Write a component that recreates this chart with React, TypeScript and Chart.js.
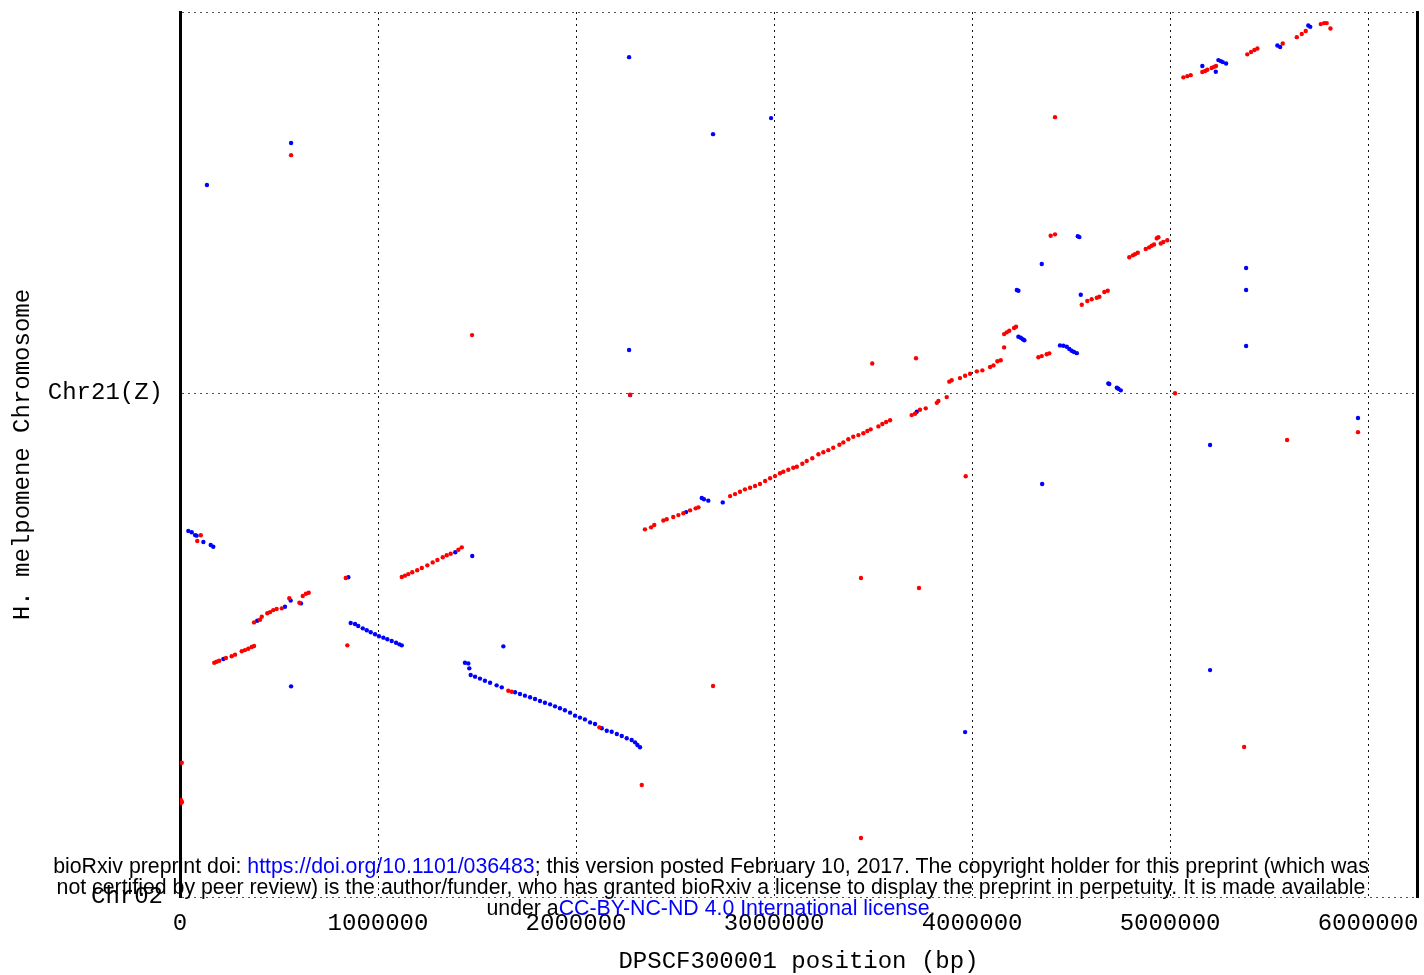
import React, { useEffect, useRef } from "react";
import { Chart, registerables } from "chart.js";

Chart.register(...registerables);

// X axis (DPSCF300001 position, bp)
const xTickValues = [0, 1000000, 2000000, 3000000, 4000000, 5000000, 6000000];
const xMaxBp = 6247000;

// Y axis: concatenated H. melpomene chromosomes (kb along the concatenated axis)
const chromosomeNames = ["Chr02", "Chr21(Z)"];
const chromosomeStartsKb = [0, 2545];
const yMaxKb = 4470;

// Forward matches (red): [x kb, y kb]
const forwardMatchesKb: [number, number][] = [
  [105, 1827], [87, 1798],
  [173, 1183], [185, 1188], [198, 1193], [232, 1207], [261, 1216], [278, 1224], [312, 1241], [328, 1247], [345, 1254], [362, 1263], [374, 1268],
  [374, 1387], [404, 1400], [413, 1416], [441, 1433], [455, 1439], [471, 1449], [488, 1455], [514, 1458], [552, 1509], [603, 1486], [620, 1520], [636, 1532], [650, 1537],
  [837, 1611], [845, 1271],
  [1120, 1616], [1136, 1623], [1153, 1631], [1173, 1640], [1198, 1650], [1221, 1662], [1249, 1675], [1276, 1690], [1300, 1702], [1327, 1716], [1347, 1726], [1367, 1734], [1406, 1754], [1423, 1766],
  [1658, 1042], [1675, 1037], [2118, 857],
  [2332, 566], [9, 678], [5, 490], [10, 480], [5, 475],
  [2348, 1857], [2379, 1867], [2395, 1879], [2441, 1902], [2458, 1908], [2491, 1919], [2517, 1929], [2542, 1938], [2576, 1953], [2604, 1963], [2618, 1968],
  [2778, 2025], [2803, 2035], [2828, 2047], [2853, 2059], [2879, 2067], [2904, 2076], [2929, 2086], [2955, 2101], [2980, 2115], [3005, 2126], [3030, 2140],
  [3047, 2148], [3072, 2158], [3097, 2168], [3115, 2173], [3143, 2188], [3165, 2202], [3193, 2216], [3224, 2236], [3249, 2246], [3274, 2257], [3299, 2269],
  [3330, 2284], [3350, 2296], [3375, 2312], [3400, 2325], [3426, 2333], [3451, 2342], [3471, 2354], [3488, 2362], [3527, 2377], [3547, 2389], [3566, 2399],
  [3586, 2408], [3695, 2434], [3712, 2441], [3737, 2461], [3766, 2468], [3822, 2496], [3830, 2505], [3872, 2525],
  [3885, 2603], [3897, 2610], [3939, 2621], [3965, 2633], [3990, 2643], [4024, 2655], [4052, 2660], [4091, 2677], [4108, 2685], [4128, 2706], [4145, 2711], [4162, 2776],
  [3496, 2695], [3717, 2721], [3968, 2125],
  [4162, 2843], [4175, 2852], [4188, 2860], [4212, 2874], [4222, 2880],
  [4397, 3340], [4419, 3347],
  [4554, 2991], [4582, 3010], [4604, 3019], [4630, 3027], [4643, 3032], [4668, 3056], [4685, 3062],
  [4335, 2726], [4352, 2732], [4377, 2741], [4390, 2746],
  [4794, 3231], [4812, 3241], [4823, 3247], [4837, 3254],
  [4877, 3273], [4894, 3281], [4907, 3289], [4919, 3296], [4933, 3327], [4941, 3332], [4953, 3301], [4966, 3308], [4986, 3317],
  [5025, 2544],
  [5067, 4140], [5087, 4146], [5104, 4151], [5163, 4167], [5177, 4172], [5188, 4178], [5210, 4187], [5222, 4193], [5232, 4197],
  [5390, 4256], [5409, 4268], [5426, 4278], [5441, 4286], [5569, 4311], [5640, 4343], [5665, 4359], [5685, 4374],
  [5761, 4409], [5778, 4414], [5791, 4414], [5810, 4387],
  [561, 3747], [4419, 3939], [1475, 2838], [2273, 2537], [5949, 2348], [5591, 2308], [3439, 1611], [3732, 1561], [2692, 1066], [5374, 758], [3439, 298],
];

// Reverse matches (blue): [x kb, y kb]
const reverseMatchesKb: [number, number][] = [
  [42, 1849], [59, 1842], [76, 1828], [84, 1825], [118, 1793], [155, 1778], [168, 1769],
  [219, 1202],
  [390, 1395], [530, 1466], [559, 1497], [611, 1483],
  [850, 1615], [561, 1064],
  [862, 1384], [884, 1379], [900, 1369], [923, 1357], [943, 1347], [963, 1337], [985, 1327], [1005, 1317], [1027, 1310], [1047, 1302], [1069, 1293], [1091, 1284], [1108, 1276], [1120, 1271],
  [1390, 1741],
  [1476, 1722], [1633, 1266], [1439, 1183], [1456, 1180], [1461, 1155],
  [1468, 1121], [1490, 1113], [1515, 1103], [1540, 1092], [1566, 1082], [1599, 1069], [1625, 1059], [1692, 1034], [1717, 1025], [1742, 1017], [1768, 1009],
  [1793, 1000], [1818, 990], [1843, 981], [1869, 973], [1894, 963], [1919, 953], [1944, 943], [1970, 931], [1995, 916], [2020, 906], [2045, 897], [2071, 882],
  [2096, 874], [2130, 852], [2155, 840], [2180, 835], [2206, 823], [2231, 813], [2256, 802], [2281, 793], [2298, 781], [2310, 768], [2323, 756],
  [2556, 1944], [2635, 2015], [2646, 2009], [2668, 2002], [2741, 1993], [3721, 2451],
  [4234, 2830], [4246, 2825], [4256, 2817], [4264, 2812], [4226, 3066], [4234, 3062], [4352, 3197], [4534, 3337], [4542, 3333], [4549, 3042],
  [4444, 2786], [4461, 2784], [4478, 2779], [4491, 2768], [4503, 2759], [4515, 2753], [4529, 2747],
  [4688, 2594], [4693, 2591], [4731, 2572], [4739, 2567], [4751, 2559],
  [5163, 4197], [5231, 4168], [5244, 4227], [5256, 4222], [5266, 4217], [5283, 4210], [5542, 4301], [5556, 4293], [5698, 4402], [5708, 4395],
  [2268, 4242], [561, 3808], [136, 3596], [2692, 3853], [2985, 3934], [2268, 2763], [2273, 2535],
  [5384, 3177], [5384, 3066], [5384, 2783], [5949, 2419], [5202, 2283], [4354, 2086], [5202, 1146], [3965, 833],
];

const MONO = '"Liberation Mono", "Courier New", monospace';

export default function App() {
  const canvasRef = useRef<HTMLCanvasElement | null>(null);

  useEffect(() => {
    document.body.style.margin = "0";
    const canvas = canvasRef.current;
    if (!canvas) return;
    const toPoints = (arr: [number, number][]) => arr.map(([x, y]) => ({ x: x * 1000, y: y * 1000 }));
    const yTicks = [...chromosomeStartsKb, yMaxKb].map((v) => v * 1000);
    const noPad = (s: any) => {
      s.paddingTop = 0;
      s.paddingBottom = 0;
      s.paddingLeft = 0;
      s.paddingRight = 0;
    };

    const chart = new Chart(canvas, {
      type: "scatter",
      data: {
        datasets: [
          {
            label: "forward",
            data: toPoints(forwardMatchesKb),
            backgroundColor: "#ff0000",
            borderWidth: 0,
            pointRadius: 2.2,
            pointHoverRadius: 0,
          },
          {
            label: "reverse",
            data: toPoints(reverseMatchesKb),
            backgroundColor: "#0000ff",
            borderWidth: 0,
            pointRadius: 2.2,
            pointHoverRadius: 0,
          },
        ],
      },
      options: {
        responsive: false,
        animation: false,
        events: [],
        layout: { padding: { top: 12, left: 0, right: 0, bottom: 0 } },
        plugins: { legend: { display: false }, tooltip: { enabled: false } },
        scales: {
          x: {
            type: "linear",
            min: 0,
            max: xMaxBp,
            afterBuildTicks: (s: any) => {
              s.ticks = xTickValues.map((v) => ({ value: v }));
            },
            afterFit: (s: any) => {
              s.height = 78;
              noPad(s);
            },
            ticks: {
              callback: (v: any) => String(v),
              font: { family: MONO, size: 24 },
              color: "#000",
              padding: 12,
              maxRotation: 0,
              autoSkip: false,
            },
            grid: {
              drawTicks: false,
              lineWidth: 1,
              color: (c: any) => (c.tick && c.tick.value === 0 ? "rgba(0,0,0,0)" : "#111"),
            },
            border: { display: false, dash: [2, 4] },
            title: {
              display: true,
              text: "DPSCF300001 position (bp)",
              font: { family: MONO, size: 24 },
              color: "#000",
              padding: { top: 0, bottom: -1 },
            },
          },
          y: {
            type: "linear",
            position: "left",
            min: 0,
            max: yMaxKb * 1000,
            afterBuildTicks: (s: any) => {
              s.ticks = yTicks.map((v) => ({ value: v }));
            },
            afterFit: (s: any) => {
              s.width = 180;
              noPad(s);
            },
            ticks: {
              callback: (v: any) => {
                const i = chromosomeStartsKb.findIndex((k) => k * 1000 === v);
                return i >= 0 ? chromosomeNames[i] : "";
              },
              font: { family: MONO, size: 24 },
              color: "#000",
              padding: 17,
              autoSkip: false,
            },
            grid: { drawTicks: false, lineWidth: 1, color: "#555" },
            border: { display: true, color: "#000", width: 3, dash: [2, 4] },
            title: {
              display: true,
              text: "H. melpomene Chromosome",
              font: { family: MONO, size: 24 },
              color: "#000",
              padding: { top: 8, bottom: 0 },
            },
          },
          yRight: {
            type: "linear",
            position: "right",
            display: true,
            min: 0,
            max: yMaxKb * 1000,
            afterFit: (s: any) => {
              s.width = 7;
              noPad(s);
            },
            ticks: { display: false },
            grid: { display: false, drawTicks: false },
            border: { display: true, color: "#000", width: 3 },
          },
        },
      } as any,
    });
    return () => chart.destroy();
  }, []);

  const blue = { color: "#0000ff" };
  return (
    <div style={{ position: "absolute", left: 0, top: 0, width: 1424, height: 975, background: "#fff" }}>
      <canvas ref={canvasRef} width={1424} height={975} style={{ display: "block" }} />
      <div
        style={{
          position: "absolute",
          left: 0,
          top: 856,
          width: 1422,
          fontFamily: '"Liberation Sans", Arial, sans-serif',
          fontSize: 21.3,
          lineHeight: "21px",
          textAlign: "center",
          color: "#000",
          whiteSpace: "nowrap",
          pointerEvents: "none",
        }}
      >
        <div>
          bioRxiv preprint doi: <span style={blue}>https://doi.org/10.1101/036483</span>; this version posted February 10, 2017. The copyright holder for this preprint (which was
        </div>
        <div>
          not certified by peer review) is the author/funder, who has granted bioRxiv a license to display the preprint in perpetuity. It is made available
        </div>
        <div>
          under a<span style={blue}>CC-BY-NC-ND 4.0 International license</span>.
        </div>
      </div>
    </div>
  );
}
